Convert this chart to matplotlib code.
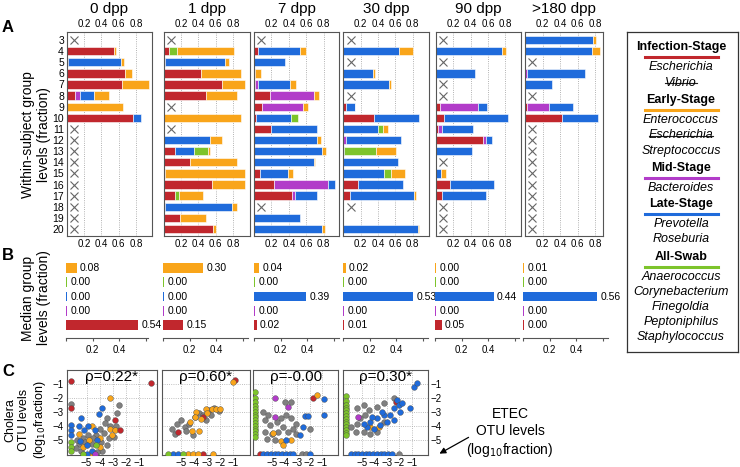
import matplotlib
matplotlib.use("Agg")
import matplotlib.pyplot as plt

plt.rcParams['font.family'] = ['Liberation Sans', 'DejaVu Sans']

# ------------------------------------------------------------------
# Data
# ------------------------------------------------------------------
RED, PURPLE, BLUE, GREEN, ORANGE = '#C1272D', '#B23CC9', '#1F6BDB', '#7DC42B', '#F9A51A'
GRAY = '#808080'

titles = ["0 dpp", "1 dpp", "7 dpp", "30 dpp", "90 dpp", ">180 dpp"]
subjects = list(range(3, 21))

# panel A: per subject (infection, mid, late, all-swab, early), None = not sampled
dpp0 = [None,
        (0.54, 0, 0, 0, 0.03), (0.02, 0, 0.61, 0, 0.027), (0.67, 0, 0, 0, 0.085),
        (0.632, 0, 0, 0, 0.318), (0.096, 0.057, 0.161, 0, 0.176), (0, 0, 0, 0, 0.644),
        (0.766, 0, 0.084, 0, 0),
        None, None, None, None, None, None, None, None, None, None]
dpp1 = [None,
        (0.069, 0, 0, 0.088, 0.651), (0.02, 0, 0.689, 0, 0.05), (0.433, 0, 0, 0, 0.46),
        (0.67, 0, 0, 0, 0.273), (0.49, 0, 0, 0, 0.357), None, (0.008, 0, 0, 0, 0.885),
        None, (0, 0, 0.536, 0, 0.138), (0.138, 0, 0.211, 0.161, 0.03), (0.31, 0, 0, 0, 0.537),
        (0.015, 0, 0, 0, 0.928), (0.559, 0, 0, 0, 0.384), (0.138, 0, 0, 0.046, 0.268),
        (0.02, 0, 0.769, 0, 0.058), (0.192, 0, 0, 0, 0.298), (0.567, 0, 0, 0, 0.038)]
dpp7 = [None,
        (0.046, 0, 0.483, 0, 0.065), (0, 0, 0.352, 0, 0), (0.01, 0, 0, 0, 0.074),
        (0.015, 0.03, 0.365, 0, 0.077), (0.18, 0.51, 0, 0, 0.057), (0.096, 0.467, 0, 0, 0.058),
        (0.027, 0, 0.402, 0.081, 0), (0.192, 0, 0.528, 0, 0), (0, 0, 0.72, 0, 0.046),
        (0, 0, 0.785, 0, 0.039), (0, 0, 0.69, 0, 0.01), (0.065, 0, 0.33, 0, 0.057),
        (0.23, 0.624, 0.073, 0, 0), (0.44, 0.027, 0.253, 0, 0), None,
        (0, 0, 0.529, 0, 0), (0, 0, 0.778, 0, 0.034)]
dpp30 = [None,
         (0, 0, 0.644, 0, 0.153), None, (0, 0, 0.337, 0, 0.023), (0, 0, 0.529, 0, 0.023),
         None, (0.031, 0, 0.099, 0, 0.01), (0.349, 0, 0.517, 0, 0), (0, 0, 0.398, 0.058, 0.057),
         (0, 0.031, 0.636, 0, 0), (0, 0, 0.008, 0.367, 0.23), (0, 0, 0.625, 0, 0),
         (0, 0, 0.464, 0.084, 0.157), (0.165, 0, 0.521, 0, 0), (0.073, 0, 0.743, 0, 0.023),
         None, (0, 0, 0, 0, 0), (0, 0, 0.858, 0, 0.01)]
dpp90 = [None,
         (0, 0, 0.766, 0, 0.046), None, (0, 0, 0.448, 0, 0), None, None,
         (0.054, 0.433, 0.107, 0, 0), (0.096, 0, 0.735, 0, 0), (0.027, 0.046, 0.356, 0, 0),
         (0.544, 0.038, 0.066, 0, 0), (0, 0, 0.418, 0, 0), None, (0, 0, 0.065, 0, 0.05),
         (0.169, 0, 0.501, 0, 0), (0.073, 0, 0.509, 0, 0), None, None, None]
dpp180 = [(0, 0, 0.777, 0, 0.034), (0, 0, 0.766, 0, 0.083), None, (0, 0.019, 0.664, 0, 0),
          (0, 0, 0.306, 0, 0), None, (0.019, 0.249, 0.279, 0, 0), (0.419, 0, 0.415, 0, 0),
          None, None, None, None, None, None, None, None, None, None]
panel_a = [dpp0, dpp1, dpp7, dpp30, dpp90, dpp180]

# panel B: medians (early, all-swab, late, mid, infection)
med_early = [0.08, 0.30, 0.04, 0.02, 0.00, 0.01]
med_allswab = [0.00, 0.00, 0.00, 0.00, 0.00, 0.00]
med_late = [0.00, 0.00, 0.39, 0.53, 0.44, 0.56]
med_mid = [0.00, 0.00, 0.00, 0.00, 0.00, 0.00]
med_infection = [0.54, 0.15, 0.02, 0.01, 0.05, 0.00]

# panel C: (ETEC, cholera) log10 levels per stage colour
rho_labels = ["ρ=0.22*", "ρ=0.60*", "ρ=-0.00", "ρ=0.30*"]
scatter1 = {
    GRAY: [(-6.17, -2.47), (-2.52, -2.52), (-2.7, -3.1), (-3.47, -3.48), (-3.6, -3.8), (-3.2, -4.0),
           (-2.8, -4.0), (-4.0, -4.2), (-3.7, -4.5), (-4.3, -4.7), (-4.9, -4.7), (-5.3, -4.9),
           (-5.6, -5.3), (-5.8, -5.6), (-5.4, -5.8), (-5.1, -5.2), (-4.6, -5.3), (-3.45, -5.4),
           (-3.8, -5.8), (-4.2, -5.9), (-3.3, -4.9), (-2.9, -4.8), (-3.9, -5.2), (-5.7, -5.0),
           (-4.5, -4.9)],
    ORANGE: [(-3.22, -2.04), (-4.6, -4.03), (-3.2, -4.2), (-2.85, -4.3), (-3.05, -4.7), (-3.95, -4.9),
             (-4.8, -5.0), (-5.3, -5.5), (-4.74, -6.0), (-4.0, -5.5), (-5.6, -4.6)],
    BLUE: [(-3.8, -2.76), (-4.05, -3.19), (-5.44, -3.43), (-6.17, -3.96), (-6.17, -4.32), (-6.17, -4.68),
           (-5.2, -4.3), (-4.35, -4.3), (-5.5, -5.1), (-5.0, -5.4), (-4.6, -5.8), (-5.0, -6.0),
           (-5.6, -4.0), (-4.9, -4.0), (-4.2, -5.0)],
    GREEN: [(-6.17, -5.16), (-6.17, -5.52), (-6.17, -5.8), (-4.3, -5.4), (-5.3, -6.0)],
    PURPLE: [(-4.36, -6.0)],
    RED: [(-6.17, -0.8), (-0.14, -0.96), (-6.17, -2.7), (-2.84, -3.6), (-2.46, -4.3)],
}
scatter2 = {
    GRAY: [(-5.74, -4.2), (-4.73, -4.08), (-4.98, -3.6), (-3.97, -3.4), (-3.6, -3.1), (-3.34, -3.25),
           (-2.84, -2.9), (-2.46, -2.7), (-2.08, -2.95), (-4.1, -4.65), (-4.6, -4.4), (-5.3, -3.9),
           (-4.4, -3.9), (-2.7, -3.2), (-3.1, -3.6), (-5.5, -4.6)],
    RED: [(-0.82, -0.75), (-5.24, -4.44), (-3.34, -3.35), (-3.34, -6.0)],
    ORANGE: [(-1.02, -0.85), (-4.35, -3.7), (-4.2, -4.4), (-3.85, -3.0), (-3.47, -3.5), (-3.1, -2.8),
             (-2.6, -2.8), (-2.3, -2.8), (-3.6, -4.4), (-3.0, -3.1), (-4.48, -6.0), (-4.1, -6.0),
             (-3.72, -6.0), (-2.58, -6.0), (-2.0, -2.8), (-3.9, -3.4)],
    BLUE: [(-5.6, -6.0), (-5.24, -6.0)],
    GREEN: [(-5.99, -6.0), (-4.86, -6.0)],
}
scatter3 = {
    GREEN: [(-6.36, v) for v in (-1.6, -2.0, -2.3, -2.6, -2.8, -3.0, -3.2, -3.4, -3.6, -3.8,
                                 -4.0, -4.2, -4.4, -4.6, -4.8)],
    GRAY: [(-5.71, -3.0), (-5.31, -3.24), (-5.57, -3.6), (-5.17, -3.96), (-4.64, -3.72), (-4.25, -3.48),
           (-3.85, -3.24), (-3.45, -3.48), (-3.06, -3.84), (-3.32, -4.2), (-3.72, -4.44), (-4.12, -4.08),
           (-4.51, -4.44), (-5.04, -4.56), (-5.57, -4.44), (-5.44, -4.92), (-4.78, -5.04), (-3.06, -4.56),
           (-3.45, -2.28), (-3.98, -2.28), (-2.0, -4.2), (-2.6, -6.0), (-2.3, -6.0)],
    PURPLE: [(-4.78, -2.04), (-3.72, -2.64), (-4.78, -3.36)],
    RED: [(-1.74, -2.04), (-6.0, -6.0)],
    ORANGE: [(-1.39, -1.8), (-4.9, -4.5), (-4.25, -5.1), (-3.45, -5.0), (-4.1, -5.4)],
    BLUE: [(-0.81, -2.1), (-0.81, -3.2), (-2.4, -3.3), (-2.1, -3.3), (-2.53, -4.08), (-2.8, -4.67),
           (-3.85, -5.0), (-5.7, -6.0), (-5.4, -6.0), (-5.1, -6.0), (-4.8, -6.0), (-4.5, -6.0),
           (-4.2, -6.0), (-3.9, -6.0), (-3.6, -6.0), (-3.3, -6.0), (-2.0, -6.0)],
}
scatter4 = {
    GREEN: [(-6.32, v) for v in (-1.9, -2.2, -2.5, -2.7, -2.9, -3.1, -3.3, -3.5, -3.7, -3.9,
                                 -4.1, -4.3, -4.5, -4.7)],
    GRAY: [(-5.92, -4.08), (-5.38, -3.84), (-5.12, -3.48), (-4.72, -3.24), (-4.45, -2.88), (-3.78, -2.64),
           (-3.25, -2.4), (-2.45, -2.04), (-5.52, -4.44), (-4.85, -4.44), (-4.32, -4.56), (-3.78, -4.44),
           (-5.38, -2.76), (-4.85, -2.52), (-3.25, -3.72), (-2.05, -6.0)],
    PURPLE: [(-5.33, -3.36)],
    RED: [(-2.3, -2.3)],
    ORANGE: [(-4.32, -4.08), (-3.65, -4.08)],
    BLUE: [(-0.85, -1.2), (-0.58, -0.96), (-1.12, -2.76), (-2.18, -2.16), (-2.05, -2.52), (-2.45, -2.76),
           (-1.92, -3.0), (-2.72, -3.24), (-3.25, -3.24), (-3.78, -3.48), (-4.32, -3.72), (-4.58, -4.08),
           (-4.05, -4.2), (-3.52, -3.96), (-2.98, -3.72), (-2.45, -3.6), (-1.78, -2.4), (-3.38, -3.0),
           (-4.85, -3.84), (-4.18, -3.36), (-5.9, -6.0), (-5.6, -6.0), (-5.3, -6.0), (-5.0, -6.0),
           (-4.7, -6.0), (-4.4, -6.0), (-4.1, -6.0), (-3.8, -6.0), (-3.5, -6.0), (-3.2, -6.0),
           (-2.9, -6.0), (-2.6, -6.0)],
}
panel_c = [scatter1, scatter2, scatter3, scatter4]

# ------------------------------------------------------------------
# Layout helpers (pixel coordinates of the 740x467 canvas)
# ------------------------------------------------------------------
W, H = 740, 467
fig = plt.figure(figsize=(W / 100, H / 100), dpi=100)


def px_axes(left, top, right, bottom):
    return fig.add_axes([left / W, 1 - bottom / H, (right - left) / W, (bottom - top) / H])


def px_text(x, y, s, **kw):
    return fig.text(x / W, 1 - y / H, s, **kw)


SPINE = '#555555'
seg_colors = [RED, PURPLE, BLUE, GREEN, ORANGE]

# ------------------------------------------------------------------
# Panel A
# ------------------------------------------------------------------
cols_a = [(66.7, 152.3), (163.5, 250), (254, 339.3), (343.3, 429.3), (435.7, 521), (525, 603.3)]
xmax_a = [0.985, 0.995, 0.98, 0.99, 0.98, 0.89]

for ci, data in enumerate(panel_a):
    l, r = cols_a[ci]
    ax = px_axes(l, 32, r, 236)
    for row, vals in zip(subjects, data):
        if vals is None:
            ax.plot(0.085, row, marker='x', color='#666666', ms=6, mew=0.8)
            continue
        left = 0
        for v, c in zip(vals, seg_colors):
            if v > 0:
                ax.barh(row, v, left=left, height=0.75, color=c, edgecolor='white', linewidth=0.4)
                left += v
    ax.set_xlim(0, xmax_a[ci])
    ax.set_ylim(20.63, 2.28)
    ax.set_xticks([0.2, 0.4, 0.6, 0.8])
    ax.set_xticklabels(['0.2', '0.4', '0.6', '0.8'])
    ax.tick_params(axis='x', top=True, labeltop=True, length=0, labelsize=7, pad=2)
    ax.grid(axis='x', linestyle=':', color='#999999', linewidth=0.6)
    ax.set_axisbelow(True)
    ax.set_yticks(subjects)
    if ci == 0:
        ax.set_yticklabels([str(s) for s in subjects])
        ax.tick_params(axis='y', length=0, labelsize=7.5, pad=2)
    else:
        ax.tick_params(axis='y', length=0, labelleft=False)
    for sp in ax.spines.values():
        sp.set_color(SPINE)
        sp.set_linewidth(0.8)
    px_text((l + r) / 2, 9, titles[ci], ha='center', va='center', fontsize=11)

px_text(36, 135, "Within-subject group\nlevels (fraction)", rotation=90,
        ha='center', va='center', fontsize=10, linespacing=1.2)
px_text(8, 27, "A", fontsize=12, fontweight='bold', ha='center', va='center')

# ------------------------------------------------------------------
# Panel B
# ------------------------------------------------------------------
cols_b = [(66, 148), (163, 248), (254, 339), (343, 428), (435, 519), (523, 608)]
b_series = [med_early, med_allswab, med_late, med_mid, med_infection]
b_colors = [ORANGE, GREEN, BLUE, PURPLE, RED]

for ci in range(6):
    l, r = cols_b[ci]
    ax = px_axes(l, 260, r, 338)
    xmax = (r - l) / 133
    for yi, (series, c) in enumerate(zip(b_series, b_colors)):
        v = series[ci]
        ax.barh(yi, max(v, 0.008), height=0.7, color=c)
        ax.text(max(v, 0.008) + 0.025, yi, f"{v:.2f}", va='center', ha='left', fontsize=7.5,
                clip_on=False)
    ax.set_xlim(0, xmax)
    ax.set_ylim(4.91, -0.56)
    ax.set_yticks([])
    ax.set_xticks([0, 0.2, 0.4, 0.6])
    ax.set_xticklabels(['', '0.2', '0.4', ''])
    ax.tick_params(axis='x', length=2, labelsize=7, pad=3, color=SPINE)
    for name in ['top', 'left', 'right']:
        ax.spines[name].set_visible(False)
    ax.spines['bottom'].set_color(SPINE)
    ax.spines['bottom'].set_linewidth(0.8)

px_text(36, 298, "Median group\nlevels (fraction)", rotation=90,
        ha='center', va='center', fontsize=10, linespacing=1.2)
px_text(8, 255, "B", fontsize=12, fontweight='bold', ha='center', va='center')

# ------------------------------------------------------------------
# Panel C
# ------------------------------------------------------------------
cols_c = [(66.7, 156.7), (161.7, 250), (253.3, 338.3), (343.3, 428)]
for ci, pts in enumerate(panel_c):
    l, r = cols_c[ci]
    ax = px_axes(l, 370, r, 455)
    for c, xy in pts.items():
        xs = [p[0] for p in xy]
        ys = [p[1] for p in xy]
        ax.scatter(xs, ys, s=17, color=c, edgecolor='#4d4d4d', linewidth=0.3, zorder=3)
    ax.set_xlim(-6.5, 0.3)
    ax.set_ylim(-6.1, 0)
    ax.set_xticks([-5, -4, -3, -2, -1])
    ax.set_yticks([-5, -4, -3, -2, -1])
    ax.grid(True, linestyle=':', color='#aaaaaa', linewidth=0.6)
    ax.set_axisbelow(True)
    ax.tick_params(length=0, labelsize=7, pad=2)
    if ci == 0:
        ax.tick_params(axis='y', labelleft=True)
    elif ci == 3:
        ax.tick_params(axis='y', labelleft=False, labelright=True)
    else:
        ax.tick_params(axis='y', labelleft=False)
    for sp in ax.spines.values():
        sp.set_color(SPINE)
        sp.set_linewidth(0.8)
    px_text((l + r) / 2, 377, rho_labels[ci], ha='center', va='center', fontsize=11)

px_text(26, 420, "Cholera\nOTU levels\n(log$_{10}$fraction)", rotation=90,
        ha='center', va='center', fontsize=9, linespacing=1.2)
px_text(8, 371, "C", fontsize=12, fontweight='bold', ha='center', va='center')

px_text(510, 433, "ETEC\nOTU levels\n(log$_{10}$fraction)", ha='center', va='center',
        fontsize=10, linespacing=1.25)
fig.axes[0].annotate("", xy=(437 / W, 1 - 455 / H), xycoords='figure fraction',
                     xytext=(471 / W, 1 - 436 / H), textcoords='figure fraction',
                     arrowprops=dict(arrowstyle='-|>', color='black', lw=0.9, mutation_scale=9))

# ------------------------------------------------------------------
# Legend box
# ------------------------------------------------------------------
lax = px_axes(627, 32, 738, 352)
lax.set_xticks([])
lax.set_yticks([])
for sp in lax.spines.values():
    sp.set_color('#333333')
    sp.set_linewidth(0.9)

legend_groups = [
    ("Infection-Stage", RED, 47, [("Escherichia", False), ("Vibrio", True)]),
    ("Early-Stage", ORANGE, 100, [("Enterococcus", False), ("Escherichia", True), ("Streptococcus", False)]),
    ("Mid-Stage", PURPLE, 168, [("Bacteroides", False)]),
    ("Late-Stage", BLUE, 204, [("Prevotella", False), ("Roseburia", False)]),
    ("All-Swab", GREEN, 257, [("Anaerococcus", False), ("Corynebacterium", False), ("Finegoldia", False),
                              ("Peptoniphilus", False), ("Staphylococcus", False)]),
]
cx = 681
struck = []
for head, color, y, genera in legend_groups:
    px_text(cx, y, head, ha='center', va='center', fontsize=9, fontweight='bold')
    fig.add_artist(plt.Line2D([645 / W, 718 / W], [1 - (y + 9.5) / H] * 2, color=color, lw=2.2))
    gy = y + 20
    for name, strike in genera:
        t = px_text(cx, gy, name, ha='center', va='center', fontsize=9, style='italic')
        if strike:
            struck.append(t)
        gy += 15.5 if head != "All-Swab" else 15

fig.canvas.draw()
renderer = fig.canvas.get_renderer()
for t in struck:
    bb = t.get_window_extent(renderer).transformed(fig.transFigure.inverted())
    ymid = (bb.y0 + bb.y1) / 2
    fig.add_artist(plt.Line2D([bb.x0, bb.x1], [ymid, ymid], color='#222222', lw=0.8))

fig.savefig("out.png", dpi=100)
